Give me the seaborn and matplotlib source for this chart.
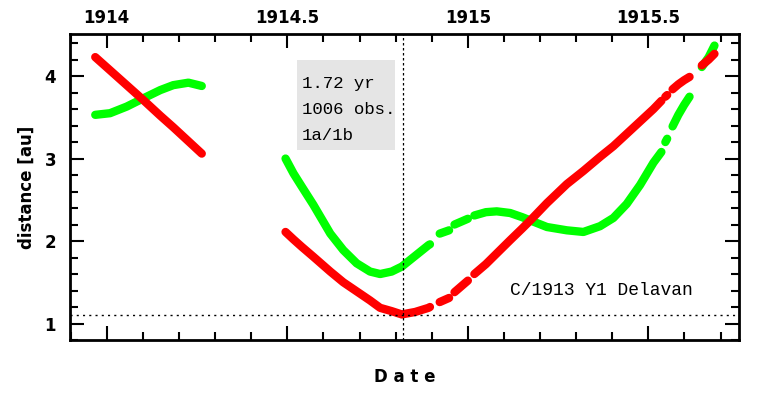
import pandas as pd
import matplotlib
matplotlib.use('Agg')
import matplotlib.pyplot as plt
import matplotlib.patches as mpatches
from matplotlib.ticker import MultipleLocator
import seaborn as sns

# -------------------------------
# 1. Data (segments separated by gaps)
# -------------------------------
seg = [0, 0, 0, 0, 0, 0, 0, 0,
       1, 1, 1, 1, 1, 1, 1, 1, 1, 1, 1, 1, 1, 1,
       2, 2,
       3, 3,
       4, 4, 4, 4, 4, 4, 4, 4, 4, 4, 4, 4, 4, 4, 4,
       5, 5,
       6, 6, 6, 6,
       7, 7, 7]
date = [1913.968, 1914.009, 1914.055, 1914.101, 1914.148, 1914.184, 1914.226, 1914.263,
        1914.495, 1914.517, 1914.540, 1914.572, 1914.619, 1914.655, 1914.692, 1914.729,
        1914.757, 1914.789, 1914.817, 1914.854, 1914.891, 1914.895,
        1914.922, 1914.948,
        1914.963, 1915.000,
        1915.018, 1915.050, 1915.080, 1915.117, 1915.150, 1915.173, 1915.219, 1915.274,
        1915.320, 1915.366, 1915.403, 1915.440, 1915.477, 1915.514, 1915.536,
        1915.547, 1915.552,
        1915.567, 1915.583, 1915.599, 1915.614,
        1915.648, 1915.667, 1915.683]
r_sun = [4.23, 4.07, 3.89, 3.71, 3.52, 3.38, 3.21, 3.06,
         2.11, 2.02, 1.93, 1.81, 1.63, 1.50, 1.39, 1.28,
         1.19, 1.15, 1.11, 1.14, 1.19, 1.20,
         1.26, 1.31,
         1.38, 1.52,
         1.60, 1.72, 1.85, 2.01, 2.15, 2.25, 2.46, 2.69,
         2.85, 3.02, 3.15, 3.30, 3.45, 3.60, 3.70,
         3.75, 3.77,
         3.84, 3.90, 3.95, 3.99,
         4.13, 4.20, 4.27]
delta = [3.53, 3.55, 3.63, 3.73, 3.83, 3.89, 3.92, 3.88,
         3.00, 2.82, 2.66, 2.44, 2.09, 1.89, 1.73, 1.63,
         1.60, 1.63, 1.69, 1.82, 1.95, 1.96,
         2.09, 2.13,
         2.20, 2.27,
         2.31, 2.35, 2.36, 2.34, 2.29, 2.25, 2.17, 2.13,
         2.11, 2.18, 2.28, 2.45, 2.68, 2.95, 3.08,
         3.20, 3.24,
         3.39, 3.53, 3.65, 3.75,
         4.11, 4.23, 4.37]

perihelion_date = 1914.82
perihelion_q = 1.10
info_lines = ["1.72 yr", "1006 obs.", "1a/1b"]
comet_name = "C/1913 Y1 Delavan"

df = pd.DataFrame({'seg': seg, 'date': date, 'r': r_sun, 'delta': delta})

# -------------------------------
# 2. Figure
# -------------------------------
sns.set_style('ticks')
plt.rcParams['font.family'] = ['DejaVu Sans']
plt.rcParams.update({'text.color': 'black', 'axes.labelcolor': 'black',
                     'xtick.color': 'black', 'ytick.color': 'black',
                     'axes.edgecolor': 'black'})

fig = plt.figure(figsize=(7.64, 3.96), dpi=100)
ax = fig.add_axes([0.0916, 0.1414, 0.8757, 0.7727])

sns.lineplot(data=df, x='date', y='delta', units='seg', estimator=None, sort=False,
             color='#00ff00', lw=6, solid_capstyle='round', solid_joinstyle='round', ax=ax)
sns.lineplot(data=df, x='date', y='r', units='seg', estimator=None, sort=False,
             color='#ff0000', lw=6, solid_capstyle='round', solid_joinstyle='round', ax=ax)

ax.axvline(perihelion_date, color='black', ls=(0, (2, 2)), lw=0.9)
ax.axhline(perihelion_q, color='black', ls=(0, (1.5, 3)), lw=1.0)

ax.set_xlim(1913.898, 1915.751)
ax.set_ylim(0.8, 4.51)

ax.xaxis.set_major_locator(MultipleLocator(0.5))
ax.xaxis.set_minor_locator(MultipleLocator(0.1))
ax.yaxis.set_major_locator(MultipleLocator(1))
ax.yaxis.set_minor_locator(MultipleLocator(0.2))
ax.xaxis.set_major_formatter(plt.FuncFormatter(lambda v, p: f"{v:g}"))

ax.tick_params(which='both', direction='in', top=True, bottom=True, left=True, right=True,
               labeltop=True, labelbottom=False, width=1.5, colors='black')
ax.tick_params(which='major', length=10)
ax.tick_params(which='minor', length=5.5)
ax.tick_params(axis='x', pad=5)
ax.tick_params(axis='y', pad=10)
for lab in ax.get_xticklabels() + ax.get_yticklabels():
    lab.set_fontweight('bold')
    lab.set_fontsize(12)
for sp in ax.spines.values():
    sp.set_linewidth(2)
    sp.set_color('black')
    sp.set_visible(True)

ax.set_xlabel("")
ax.set_ylabel("distance [au]", fontsize=12, fontweight='bold', labelpad=6, color='black')
fig.text(0.530, 0.024, "D a t e", ha='center', va='bottom', fontsize=12, fontweight='bold',
         color='black')

# info box
ax.add_patch(mpatches.Rectangle((0.339, 0.621), 0.147, 0.294, transform=ax.transAxes,
                                facecolor='#e5e5e5', edgecolor='none', zorder=1))
for i, line in enumerate(info_lines):
    ax.text(0.347, 0.838 - i * 0.085, line, transform=ax.transAxes, ha='left', va='center',
            fontsize=12.5, family='Liberation Mono', color='black', zorder=2)

ax.text(0.658, 0.163, comet_name, transform=ax.transAxes, ha='left', va='center',
        fontsize=13, family='Liberation Mono', color='black')

fig.savefig('out.png', dpi=100)
